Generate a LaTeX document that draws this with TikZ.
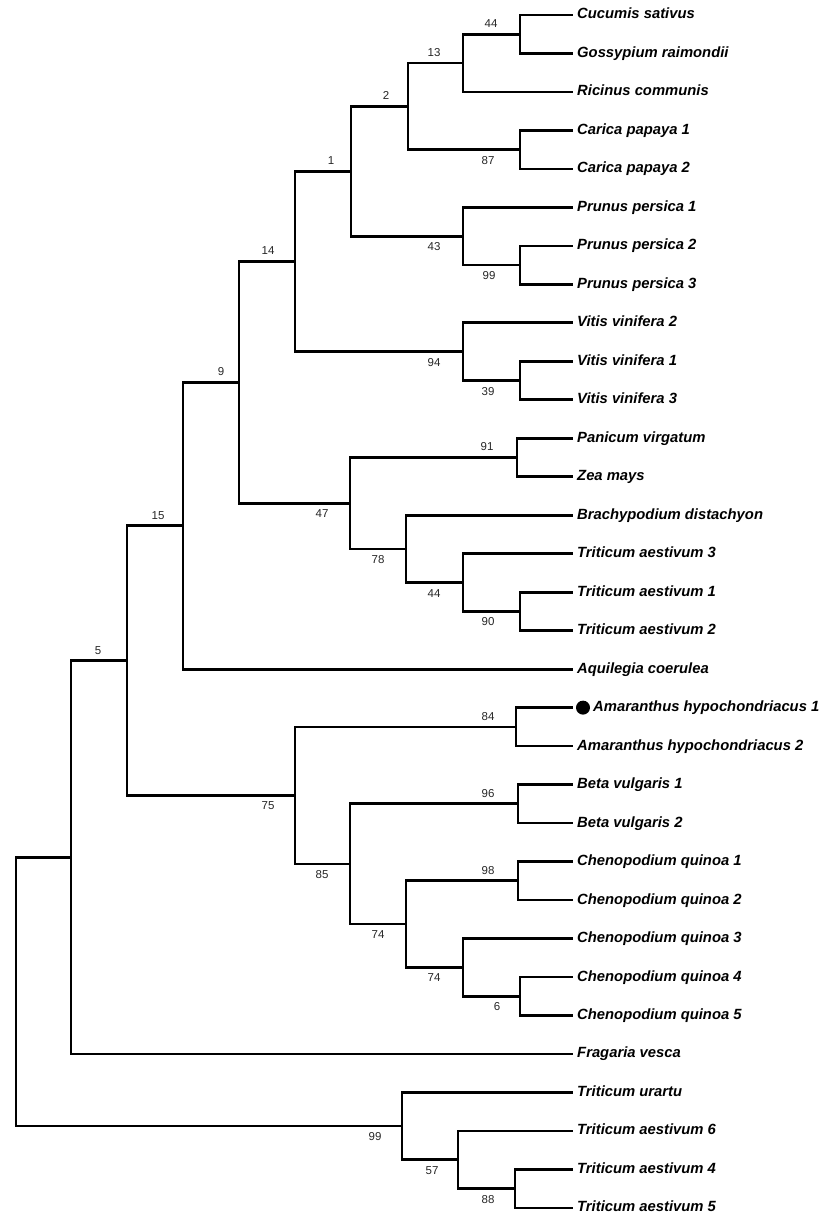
\documentclass[tikz,border=0pt]{standalone}
\usepackage{fontspec}
\setmainfont{Liberation Sans}
\usetikzlibrary{calc}
\begin{document}
\begin{tikzpicture}[x=1pt,y=-1pt,
  br/.style={line width=2.7pt,line cap=rect,black},
  leaf/.style={anchor=base west,inner sep=0pt,font=\fontsize{14.8}{16}\selectfont\bfseries\itshape},
  bs/.style={inner sep=0pt,anchor=center,font=\fontsize{11.5}{12}\selectfont,text=black!85},
  bsup/.style={bs,yshift=10.5pt},
  bsdn/.style={bs,yshift=-10.5pt}]
\useasboundingbox (0,0) rectangle (829,1226);
% leaves
\foreach \i/\t in {0/Cucumis sativus,1/Gossypium raimondii,2/Ricinus communis,
  3/Carica papaya 1,4/Carica papaya 2,5/Prunus persica 1,6/Prunus persica 2,
  7/Prunus persica 3,8/Vitis vinifera 2,9/Vitis vinifera 1,10/Vitis vinifera 3,
  11/Panicum virgatum,12/Zea mays,13/Brachypodium distachyon,14/Triticum aestivum 3,
  15/Triticum aestivum 1,16/Triticum aestivum 2,17/Aquilegia coerulea,
  19/Amaranthus hypochondriacus 2,20/Beta vulgaris 1,21/Beta vulgaris 2,
  22/Chenopodium quinoa 1,23/Chenopodium quinoa 2,24/Chenopodium quinoa 3,
  25/Chenopodium quinoa 4,26/Chenopodium quinoa 5,27/Fragaria vesca,
  28/Triticum urartu,29/Triticum aestivum 6,30/Triticum aestivum 4,31/Triticum aestivum 5}{
  \coordinate (l\i) at (572,{15+38.48*\i});
  \node[leaf] (t\i) at (577,{19+38.48*\i}) {\t};
}
\coordinate (l18) at (572,{15+38.48*18});
\node[circle,fill=black,inner sep=0pt,minimum size=14pt] (dot) at (583,{15+38.48*18}) {};
\node[leaf] (t18) at (593,{19+38.48*18}) {Amaranthus hypochondriacus 1};
% internal nodes
\coordinate (n44) at (520,34.25);
\coordinate (n13) at (463,63.1);
\coordinate (n87) at (520,149.7);
\coordinate (n2) at (408,106.4);
\coordinate (n99a) at (520,265.1);
\coordinate (n43) at (463,236.3);
\coordinate (n1) at (351,171.3);
\coordinate (n39) at (520,380.6);
\coordinate (n94) at (463,351.7);
\coordinate (n14) at (295,261.5);
\coordinate (n91) at (517,457.5);
\coordinate (n90) at (520,611.4);
\coordinate (n44b) at (463,582.6);
\coordinate (n78) at (406,548.9);
\coordinate (n47) at (350,503.2);
\coordinate (n9) at (239,382.4);
\coordinate (n15) at (183,525.8);
\coordinate (n84) at (516,726.9);
\coordinate (n96) at (518,803.8);
\coordinate (n98) at (518,880.8);
\coordinate (n6) at (520,996.2);
\coordinate (n74b) at (463,967.4);
\coordinate (n74a) at (406,924.1);
\coordinate (n85) at (350,864.0);
\coordinate (n75) at (295,795.4);
\coordinate (n5) at (127,660.6);
\coordinate (nA) at (71,857.3);
\coordinate (n88) at (515,1188.6);
\coordinate (n57) at (458,1159.8);
\coordinate (n99b) at (402,1126.1);
\coordinate (root) at (16,991.7);
% branches
\draw[br] (n44) |- (l0); \draw[br] (n44) |- (l1);
\draw[br] (n13) |- (n44); \draw[br] (n13) |- (l2);
\draw[br] (n87) |- (l3); \draw[br] (n87) |- (l4);
\draw[br] (n2) |- (n13); \draw[br] (n2) |- (n87);
\draw[br] (n99a) |- (l6); \draw[br] (n99a) |- (l7);
\draw[br] (n43) |- (l5); \draw[br] (n43) |- (n99a);
\draw[br] (n1) |- (n2); \draw[br] (n1) |- (n43);
\draw[br] (n39) |- (l9); \draw[br] (n39) |- (l10);
\draw[br] (n94) |- (l8); \draw[br] (n94) |- (n39);
\draw[br] (n14) |- (n1); \draw[br] (n14) |- (n94);
\draw[br] (n91) |- (l11); \draw[br] (n91) |- (l12);
\draw[br] (n90) |- (l15); \draw[br] (n90) |- (l16);
\draw[br] (n44b) |- (l14); \draw[br] (n44b) |- (n90);
\draw[br] (n78) |- (l13); \draw[br] (n78) |- (n44b);
\draw[br] (n47) |- (n91); \draw[br] (n47) |- (n78);
\draw[br] (n9) |- (n14); \draw[br] (n9) |- (n47);
\draw[br] (n15) |- (n9); \draw[br] (n15) |- (l17);
\draw[br] (n84) |- (l18); \draw[br] (n84) |- (l19);
\draw[br] (n96) |- (l20); \draw[br] (n96) |- (l21);
\draw[br] (n98) |- (l22); \draw[br] (n98) |- (l23);
\draw[br] (n6) |- (l25); \draw[br] (n6) |- (l26);
\draw[br] (n74b) |- (l24); \draw[br] (n74b) |- (n6);
\draw[br] (n74a) |- (n98); \draw[br] (n74a) |- (n74b);
\draw[br] (n85) |- (n96); \draw[br] (n85) |- (n74a);
\draw[br] (n75) |- (n84); \draw[br] (n75) |- (n85);
\draw[br] (n5) |- (n15); \draw[br] (n5) |- (n75);
\draw[br] (nA) |- (n5); \draw[br] (nA) |- (l27);
\draw[br] (n88) |- (l30); \draw[br] (n88) |- (l31);
\draw[br] (n57) |- (l29); \draw[br] (n57) |- (n88);
\draw[br] (n99b) |- (l28); \draw[br] (n99b) |- (n57);
\draw[br] (root) |- (nA); \draw[br] (root) |- (n99b);
% support values
\node[bsup,xshift=-29pt] at (n44) {44};
\node[bsup,xshift=-29pt] at (n13) {13};
\node[bsup,xshift=-22pt] at (n2) {2};
\node[bsup,xshift=-20pt] at (n1) {1};
\node[bsdn,xshift=-32pt] at (n87) {87};
\node[bsdn,xshift=-29pt] at (n43) {43};
\node[bsdn,xshift=-31pt] at (n99a) {99};
\node[bsup,xshift=-27pt] at (n14) {14};
\node[bsdn,xshift=-29pt] at (n94) {94};
\node[bsdn,xshift=-32pt] at (n39) {39};
\node[bsup,xshift=-18pt] at (n9) {9};
\node[bsup,xshift=-30pt] at (n91) {91};
\node[bsdn,xshift=-28pt] at (n47) {47};
\node[bsdn,xshift=-28pt] at (n78) {78};
\node[bsdn,xshift=-29pt] at (n44b) {44};
\node[bsdn,xshift=-32pt] at (n90) {90};
\node[bsup,xshift=-25pt] at (n15) {15};
\node[bsup,xshift=-29pt] at (n5) {5};
\node[bsup,xshift=-28pt] at (n84) {84};
\node[bsdn,xshift=-27pt] at (n75) {75};
\node[bsup,xshift=-30pt] at (n96) {96};
\node[bsdn,xshift=-28pt] at (n85) {85};
\node[bsup,xshift=-30pt] at (n98) {98};
\node[bsdn,xshift=-28pt] at (n74a) {74};
\node[bsdn,xshift=-29pt] at (n74b) {74};
\node[bsdn,xshift=-23pt] at (n6) {6};
\node[bsdn,xshift=-27pt] at (n99b) {99};
\node[bsdn,xshift=-26pt] at (n57) {57};
\node[bsdn,xshift=-27pt] at (n88) {88};
\end{tikzpicture}
\end{document}
